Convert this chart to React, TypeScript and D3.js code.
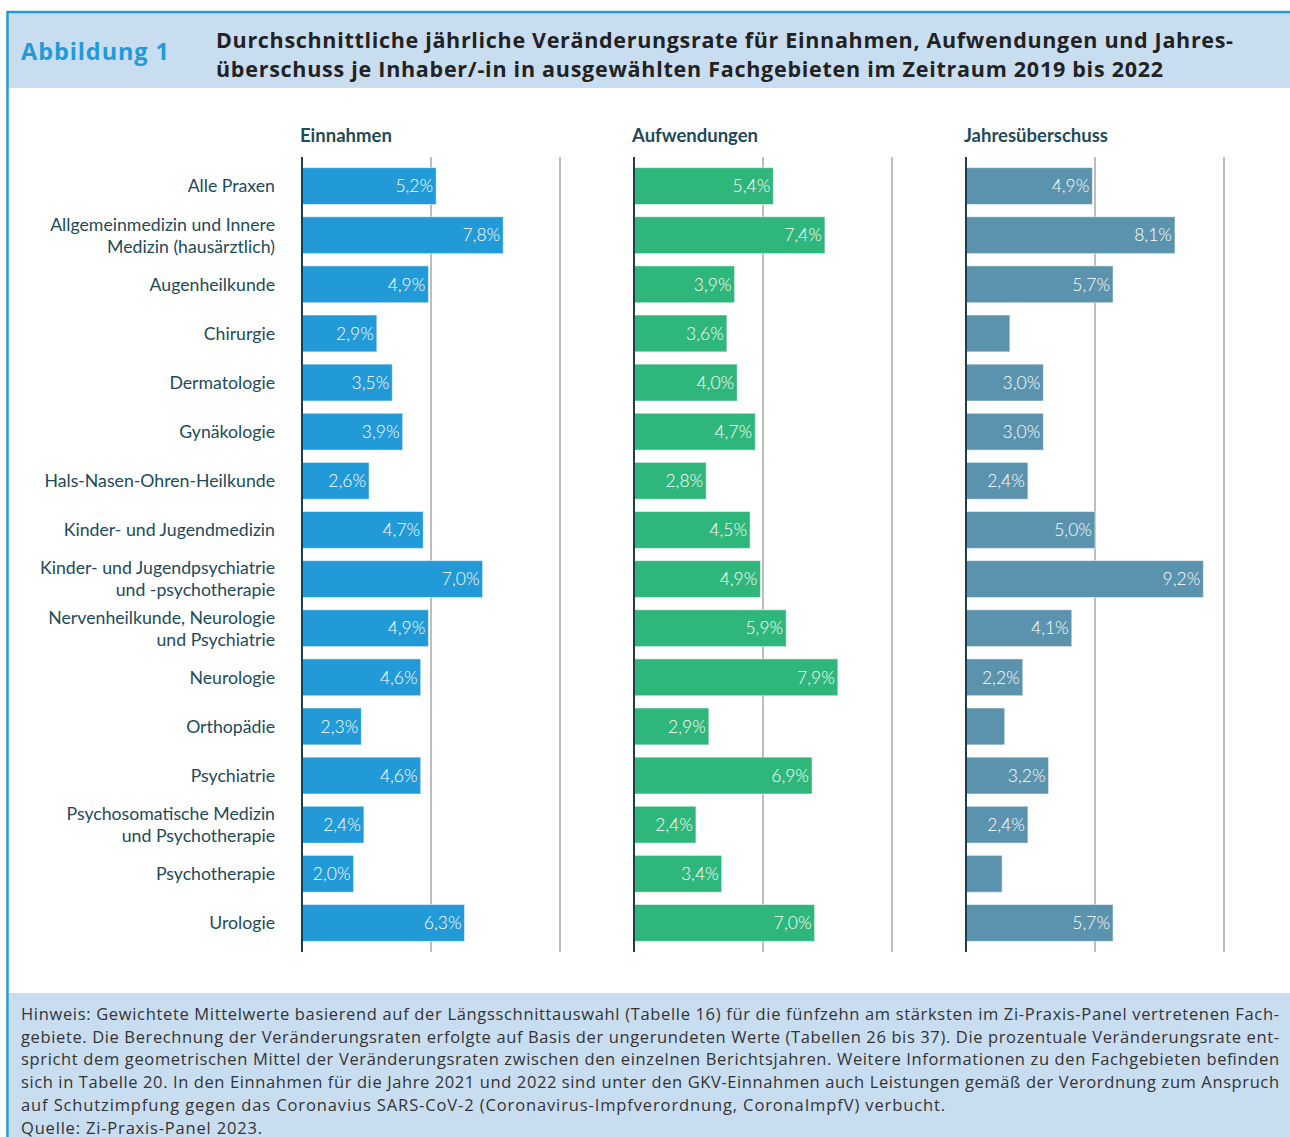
import React from "react";
import * as d3 from "d3";

const categories: string[][] = [
  ["Alle Praxen"],
  ["Allgemeinmedizin und Innere", "Medizin (hausärztlich)"],
  ["Augenheilkunde"],
  ["Chirurgie"],
  ["Dermatologie"],
  ["Gynäkologie"],
  ["Hals-Nasen-Ohren-Heilkunde"],
  ["Kinder- und Jugendmedizin"],
  ["Kinder- und Jugendpsychiatrie", "und -psychotherapie"],
  ["Nervenheilkunde, Neurologie", "und Psychiatrie"],
  ["Neurologie"],
  ["Orthopädie"],
  ["Psychiatrie"],
  ["Psychosomatische Medizin", "und Psychotherapie"],
  ["Psychotherapie"],
  ["Urologie"],
];

const einnahmen = [5.2, 7.8, 4.9, 2.9, 3.5, 3.9, 2.6, 4.7, 7.0, 4.9, 4.6, 2.3, 4.6, 2.4, 2.0, 6.3];
const aufwendungen = [5.4, 7.4, 3.9, 3.6, 4.0, 4.7, 2.8, 4.5, 4.9, 5.9, 7.9, 2.9, 6.9, 2.4, 3.4, 7.0];
const jahresueberschuss = [4.9, 8.1, 5.7, 1.7, 3.0, 3.0, 2.4, 5.0, 9.2, 4.1, 2.2, 1.5, 3.2, 2.4, 1.4, 5.7];

const panelTitles = ["Einnahmen", "Aufwendungen", "Jahresüberschuss"];
const panelColors = ["#229ad7", "#2fb67a", "#5b93ae"];
const xTicks = [0, 5, 10];

const titleLines = [
  "Durchschnittliche jährliche Veränderungsrate für Einnahmen, Aufwendungen und Jahres-",
  "überschuss je Inhaber/-in in ausgewählten Fachgebieten im Zeitraum 2019 bis 2022",
];
const titleLineWidths = [1017, 947];

const noteLines = [
  "Hinweis: Gewichtete Mittelwerte basierend auf der Längsschnittauswahl (Tabelle 16) für die fünfzehn am stärksten im Zi-Praxis-Panel vertretenen Fach-",
  "gebiete. Die Berechnung der Veränderungsraten erfolgte auf Basis der ungerundeten Werte (Tabellen 26 bis 37). Die prozentuale Veränderungsrate ent-",
  "spricht dem geometrischen Mittel der Veränderungsraten zwischen den einzelnen Berichtsjahren. Weitere Informationen zu den Fachgebieten befinden",
  "sich in Tabelle 20. In den Einnahmen für die Jahre 2021 und 2022 sind unter den GKV-Einnahmen auch Leistungen gemäß der Verordnung zum Anspruch",
  "auf Schutzimpfung gegen das Coronavius SARS-CoV-2 (Coronavirus-Impfverordnung, CoronaImpfV) verbucht.",
  "Quelle: Zi-Praxis-Panel 2023.",
];
const noteLineWidths = [1258, 1258, 1258, 1258, 924, 241];

const FONT = "Lato, 'Open Sans', sans-serif";
const WIDE = "'Open Sans', Lato, sans-serif";
const W = 1290;
const H = 1137;

export default function App() {
  const series = [einnahmen, aufwendungen, jahresueberschuss];
  const panelX0 = [302, 634, 966];
  const pxPerUnit = 25.8;
  const ids = categories.map((_, i) => String(i));
  const y = d3
    .scaleBand<string>()
    .domain(ids)
    .range([161.5, 947.5])
    .paddingInner(0.25)
    .paddingOuter(0.125);
  const gridTop = 157;
  const gridBottom = 952;
  const fmt = (v: number) => d3.format(".1f")(v).replace(".", ",") + "%";

  return (
    <svg
      width={W}
      height={H}
      style={{ position: "absolute", left: 0, top: 0, background: "#fff" }}
      fontFamily={FONT}
    >
      {/* header */}
      <rect x={8} y={13} width={W - 8} height={75} fill="#c9ddf1" />
      <line x1={7} x2={W} y1={12} y2={12} stroke="#229ad7" strokeWidth={2.5} />
      <line x1={7.5} x2={7.5} y1={11} y2={H} stroke="#229ad7" strokeWidth={2.5} />
      <text x={21} y={60} fontSize={23.5} fontWeight={700} fill="#229ad7" fontFamily={WIDE} textLength={148} lengthAdjust="spacing">
        Abbildung 1
      </text>
      {titleLines.map((t, i) => (
        <text
          key={i}
          x={216}
          y={48 + i * 29}
          fontSize={21.5}
          fontWeight={700}
          fill="#222"
          fontFamily={WIDE}
          textLength={titleLineWidths[i]}
          lengthAdjust="spacing"
        >
          {t}
        </text>
      ))}

      {/* panels */}
      {series.map((vals, p) => {
        const x = d3
          .scaleLinear()
          .domain([0, 1])
          .range([panelX0[p], panelX0[p] + pxPerUnit]);
        return (
          <g key={p}>
            <text x={panelX0[p] - 2} y={142} fontSize={18.5} fontWeight={700} fill="#1d4a5a">
              {panelTitles[p]}
            </text>
            {xTicks.slice(1).map((t) => (
              <line
                key={t}
                x1={x(t)}
                x2={x(t)}
                y1={gridTop}
                y2={gridBottom}
                stroke="#bdbdbd"
                strokeWidth={2}
              />
            ))}
            {vals.map((v, i) => (
              <g key={i}>
                <rect
                  x={x(0)}
                  y={y(ids[i])!}
                  width={x(v) - x(0)}
                  height={y.bandwidth()}
                  fill={panelColors[p]}
                  stroke="#ffffff"
                  strokeOpacity={0.5}
                  strokeWidth={1}
                />
                {v >= 2 && (
                  <text
                    x={x(v) - 3}
                    y={y(ids[i])! + y.bandwidth() / 2}
                    dy="0.36em"
                    textAnchor="end"
                    fontSize={17.5}
                    fontWeight={300}
                    fill="#fff"
                  >
                    {fmt(v)}
                  </text>
                )}
              </g>
            ))}
            <line
              x1={x(0)}
              x2={x(0)}
              y1={gridTop}
              y2={gridBottom}
              stroke="#1d3f4c"
              strokeWidth={2}
            />
          </g>
        );
      })}

      {/* category labels */}
      {categories.map((lines, i) => {
        const cy = y(ids[i])! + y.bandwidth() / 2;
        return (
          <text
            key={i}
            x={275}
            textAnchor="end"
            fontSize={17.7}
            fontWeight={400}
            fill="#1d4a5a"
          >
            {lines.map((l, j) => (
              <tspan key={j} x={275} y={cy + (j - (lines.length - 1) / 2) * 22} dy="0.36em">
                {l}
              </tspan>
            ))}
          </text>
        );
      })}

      {/* footnote */}
      <rect x={9} y={993} width={W - 9} height={H - 993} fill="#c9ddf1" />
      {noteLines.map((t, i) => (
        <text
          key={i}
          x={21}
          y={1020 + i * 22.7}
          fontSize={16.5}
          fill="#333"
          fontFamily={WIDE}
          textLength={noteLineWidths[i]}
          lengthAdjust="spacing"
        >
          {t}
        </text>
      ))}
    </svg>
  );
}
